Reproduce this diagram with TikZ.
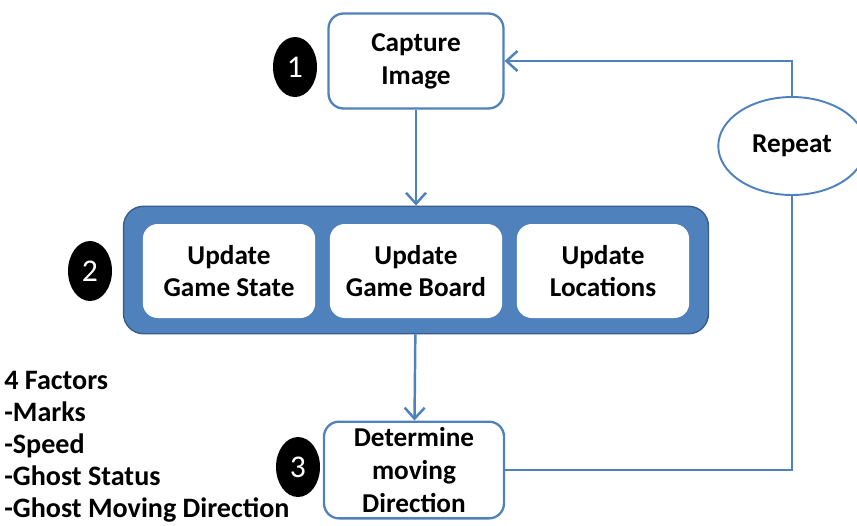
\documentclass[tikz,border=0pt]{standalone}
\usepackage{fontspec}
\setmainfont{Carlito}
\usepackage{xcolor}
\usepackage{tikz}
\usetikzlibrary{arrows.meta,positioning,shapes.geometric,calc}
\definecolor{flowblue}{RGB}{79,129,189}
\definecolor{flowdark}{RGB}{56,93,138}

\begin{document}
\begin{tikzpicture}[x=0.02cm, y=-0.02cm,
    box/.style={draw=flowblue, line width=1.3pt, rounded corners=0.3cm, fill=white,
                align=center, font=\fontsize{15.5}{18.7}\selectfont\bfseries},
    stepbox/.style={box, minimum width=3.5cm, minimum height=1.9cm},
    subbox/.style={box, draw=none, minimum width=3.45cm, minimum height=1.88cm},
    group/.style={draw=flowdark, line width=0.8pt, fill=flowblue, rounded corners=0.4cm,
                  minimum width=11.7cm, minimum height=2.55cm},
    badge/.style={ellipse, fill=black, text=white, minimum width=0.88cm, minimum height=1.2cm,
                  inner sep=0pt, font=\fontsize{18}{20}\selectfont},
    loopnode/.style={ellipse, draw=flowblue, line width=1.1pt, fill=white, minimum width=2.95cm,
                     minimum height=1.96cm, font=\fontsize{15.5}{18.7}\selectfont\bfseries},
    arrow/.style={-{Straight Barb[length=2.2mm, width=4mm]}, line width=1.4pt, color=flowblue},
    line/.style={line width=1.4pt, color=flowblue},
]
    \useasboundingbox (0,0) rectangle (857,525);

    \node[stepbox] (capture) at (416,61) {Capture\\Image};
    \node[badge] (num1) at (295,67) {1};

    \node[group] (update) at (416,270) {};
    \node[subbox] (state) at (229,271) {Update\\Game State};
    \node[subbox] (board) at (416,271) {Update\\Game Board};
    \node[subbox] (locs) at (603,271) {Update\\Locations};
    \node[badge] (num2) at (90,271) {2};

    \node[stepbox, minimum width=3.6cm, minimum height=1.8cm] (determine) at (414,470)
        {Determine\\moving\\Direction};
    \node[badge] (num3) at (298,467) {3};

    \node[loopnode] (repeat) at (792,146) {Repeat};

    \node[anchor=north west, align=left, inner sep=0pt,
          font=\fontsize{16}{18.2}\selectfont\bfseries] (factors) at (4,371)
        {4 Factors\\-Marks\\-Speed\\-Ghost Status\\-Ghost Moving Direction};

    \draw[arrow] (capture) -- (update);
    \draw[arrow] (update) -- (determine);
    \draw[line] (determine.east) -| (repeat.south);
    \draw[arrow] (repeat.north) |- (capture.east);
\end{tikzpicture}
\end{document}
